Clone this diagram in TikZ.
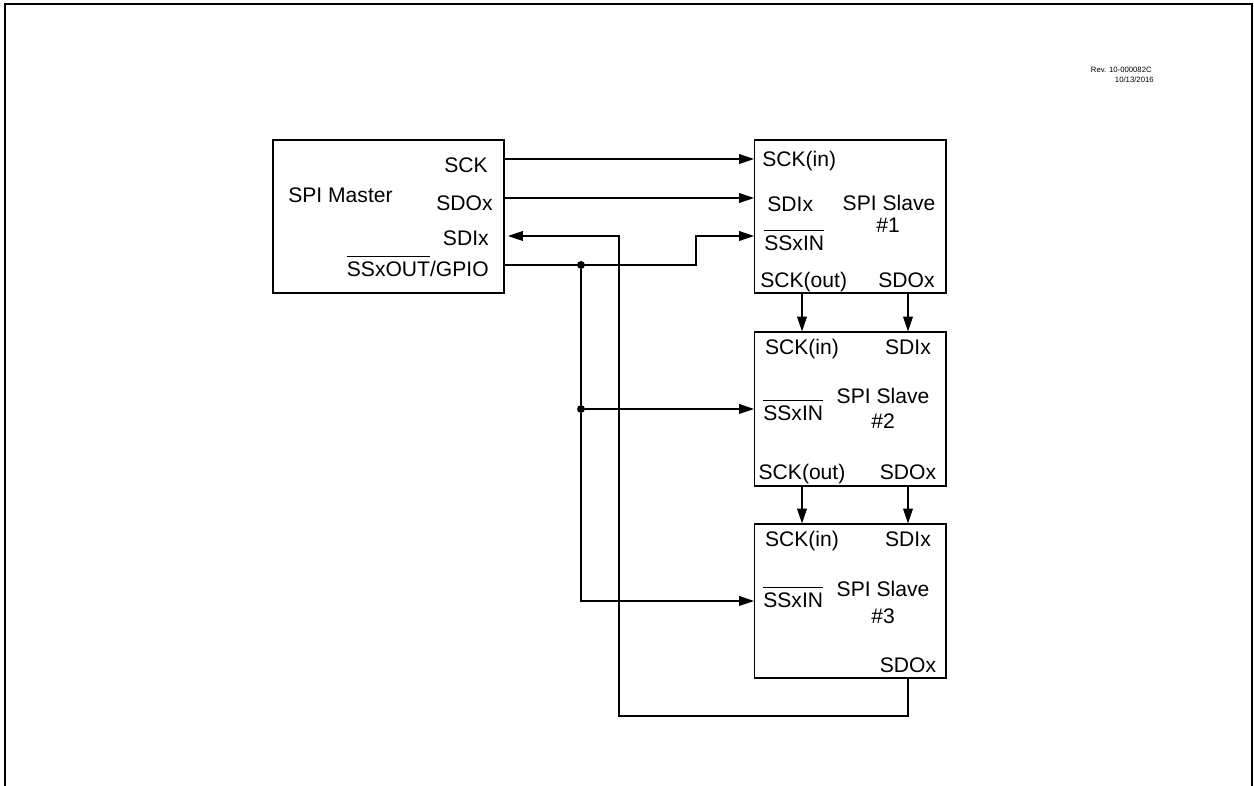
\documentclass[tikz,border=0pt]{standalone}
\usepackage{fontspec}
\setmainfont{Liberation Sans}
\usetikzlibrary{arrows.meta,positioning}
\newcommand{\ovl}[1]{\leavevmode\vbox{\hrule height 0.6pt\kern 3.2pt\hbox{#1}}}

\begin{document}
\begin{tikzpicture}[x=0.02cm, y=-0.02cm, >={Triangle[length=8.5pt,width=5.6pt]},
    every node/.style={font=\fontsize{12}{14}\selectfont, inner sep=0pt},
    blk/.style={draw, line width=0.6pt, minimum width=3.84cm, minimum height=3.07cm},
    sig/.style={line width=0.6pt},
    junct/.style={circle, fill, minimum size=4.5pt}]
    \useasboundingbox (0,0) rectangle (1254,786);
    % Sheet frame
    \draw[line width=1.2pt] (5,786) -- (5,4) -- (1252,4) -- (1252,786);
    \node[font=\fontsize{4.4}{5}\selectfont, anchor=base east] (rev) at (1152,73) {Rev. 10-000082C};
    \node[font=\fontsize{4.4}{5}\selectfont, anchor=base east] (date) at (1154,83) {10/13/2016};

    % Master
    \node[blk, minimum width=4.62cm, minimum height=3.06cm] (m) at (388.5,216.5) {};
    \node[anchor=base west] (m-name) at (288,203) {SPI Master};
    \node[anchor=base east] (m-sckl) at (488,173) {SCK};
    \node[anchor=base east] (m-sdol) at (493,211) {SDOx};
    \node[anchor=base east] (m-sdil) at (489,246) {SDIx};
    \node[anchor=base east] (m-ssl) at (489,277) {\ovl{SSxOUT}/GPIO};

    % Slave #1
    \node[blk, minimum height=3.06cm] (s1) at (850,216.5) {};
    \node[anchor=base west] (s1-sckl) at (762,167) {SCK(in)};
    \node[anchor=base west] (s1-sdil) at (767,212) {SDIx};
    \node[anchor=base west] (s1-ssl) at (764,251) {\ovl{SSxIN}};
    \node[anchor=base] (s1-name) at (889,211) {SPI Slave};
    \node[anchor=base] (s1-num) at (888,233) {\#1};
    \node[anchor=base west] (s1-scko) at (760,288) {SCK(out)};
    \node[anchor=base east] (s1-sdol) at (935,288) {SDOx};

    % Slave #2
    \node[blk, minimum height=3.08cm] (s2) at (850,409) {};
    \node[anchor=base] (s2-sckl) at (802,355) {SCK(in)};
    \node[anchor=base] (s2-sdil) at (908,355) {SDIx};
    \node[anchor=base west] (s2-ssl) at (763,421) {\ovl{SSxIN}};
    \node[anchor=base] (s2-name) at (883,404) {SPI Slave};
    \node[anchor=base] (s2-num) at (883,429) {\#2};
    \node[anchor=base] (s2-scko) at (802,480) {SCK(out)};
    \node[anchor=base] (s2-sdol) at (908,480) {SDOx};

    % Slave #3
    \node[blk, minimum height=3.08cm] (s3) at (850,601) {};
    \node[anchor=base] (s3-sckl) at (802,547) {SCK(in)};
    \node[anchor=base] (s3-sdil) at (908,547) {SDIx};
    \node[anchor=base west] (s3-ssl) at (763,608) {\ovl{SSxIN}};
    \node[anchor=base] (s3-name) at (883,597) {SPI Slave};
    \node[anchor=base] (s3-num) at (883,623) {\#3};
    \node[anchor=base] (s3-sdol) at (908,672) {SDOx};

    % Pins on the block edges
    \coordinate (m-sck) at (504,159);
    \coordinate (m-sdo) at (504,198);
    \coordinate (m-sdi) at (508,236);
    \coordinate (m-ss) at (504,265);
    \coordinate (s1-sck) at (754,159);
    \coordinate (s1-sdi) at (754,198);
    \coordinate (s1-ss) at (754,236);
    \coordinate (s2-ss) at (754,409);
    \coordinate (s3-ss) at (754,601);
    \coordinate (s3-sdo) at (908,678);

    % Clock and data from the master
    \draw[sig, ->] (m-sck) -- (s1-sck);
    \draw[sig, ->] (m-sdo) -- (s1-sdi);
    % Slave select
    \draw[sig, ->] (m-ss) -- (696,265) |- (s1-ss);
    \node[junct] (j1) at (581,265) {};
    \node[junct] (j2) at (581,409) {};
    \draw[sig] (j1) -- (j2);
    \draw[sig, ->] (j2) -- (s2-ss);
    \draw[sig, ->] (j2) |- (s3-ss);
    % Daisy chain
    \draw[sig, ->] (s1.south -| s2-sckl) -- (s2.north -| s2-sckl);
    \draw[sig, ->] (s1.south -| s2-sdil) -- (s2.north -| s2-sdil);
    \draw[sig, ->] (s2.south -| s3-sckl) -- (s3.north -| s3-sckl);
    \draw[sig, ->] (s2.south -| s3-sdil) -- (s3.north -| s3-sdil);
    % Return to master
    \draw[sig, ->] (s3-sdo) -- (908,716) -| (619,236) -- (m-sdi);
\end{tikzpicture}
\end{document}
